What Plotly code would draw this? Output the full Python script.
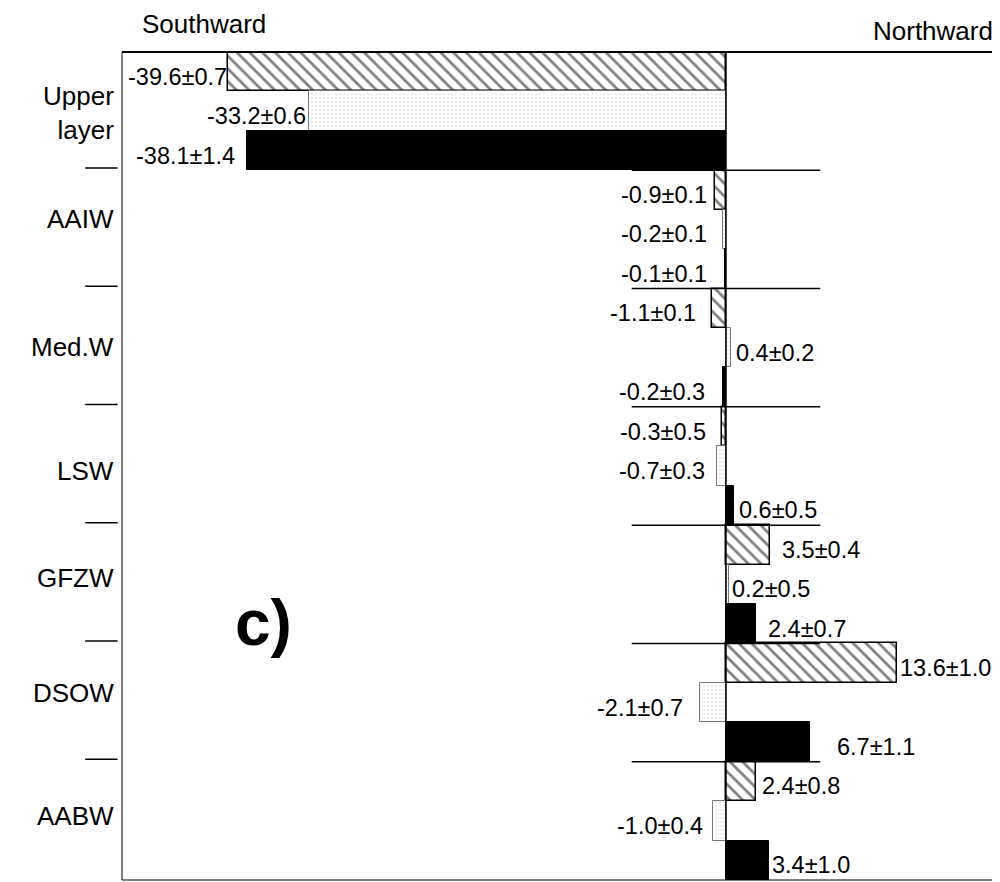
import plotly.graph_objects as go

# ---------------- data ----------------
CATEGORIES = ["Upper layer", "AAIW", "Med.W", "LSW", "GFZW", "DSOW", "AABW"]

HATCHED_VALUES = [-39.6, -0.9, -1.1, -0.3, 3.5, 13.6, 2.4]
HATCHED_ERRORS = [0.7, 0.1, 0.1, 0.5, 0.4, 1.0, 0.8]

DOTTED_VALUES = [-33.2, -0.2, 0.4, -0.7, 0.2, -2.1, -1.0]
DOTTED_ERRORS = [0.6, 0.1, 0.2, 0.3, 0.5, 0.7, 0.4]

SOLID_VALUES = [-38.1, -0.1, -0.2, 0.6, 2.4, 6.7, 3.4]
SOLID_ERRORS = [1.4, 0.1, 0.3, 0.5, 0.7, 1.1, 1.0]

# ---------------- style ----------------
FONT = "Arial, 'Liberation Sans', Helvetica, sans-serif"
VALUE_FONT_SIZE = 23.5
CAT_FONT_SIZE = 26
# gap in pixels between bar end and its value label
HATCHED_GAP = [0, 7, 15, 15, 11, 2, 5]
DOTTED_GAP = [2, 15, 4, 11, 2, 16, 9]
SOLID_GAP = [11, 17, 17, 4, 11, 26, 2]
VALUE_YSHIFT = -5
# vertical nudges (px) of the category labels
CAT_YSHIFT = [-2, 10, 1, -5, 6, 10, 5]

X_RANGE = [-48.05, 21.64]
SEP_HALF = 7.5

fig = go.Figure()

fig.add_trace(go.Bar(
    y=CATEGORIES, x=HATCHED_VALUES, orientation="h", name="hatched",
    marker=dict(color="white", line=dict(color="black", width=1.5),
                pattern=dict(shape="\\", fgcolor="black", bgcolor="white",
                             size=9, solidity=0.3, fillmode="overlay")),
))
fig.add_trace(go.Bar(
    y=CATEGORIES, x=DOTTED_VALUES, orientation="h", name="dotted",
    marker=dict(color="white", line=dict(color="#777777", width=1),
                pattern=dict(shape=".", fgcolor="#d0d0d0", bgcolor="white",
                             size=4, solidity=0.2, fillmode="overlay")),
))
fig.add_trace(go.Bar(
    y=CATEGORIES, x=SOLID_VALUES, orientation="h", name="solid",
    marker=dict(color="black", line=dict(color="black", width=1)),
))

annotations = []
series = [(HATCHED_VALUES, HATCHED_ERRORS, HATCHED_GAP),
          (DOTTED_VALUES, DOTTED_ERRORS, DOTTED_GAP),
          (SOLID_VALUES, SOLID_ERRORS, SOLID_GAP)]
n_series = len(series)
for si, (vals, errs, gaps) in enumerate(series):
    for gi, (v, e, g) in enumerate(zip(vals, errs, gaps)):
        neg = v < 0
        annotations.append(dict(
            x=v, y=gi + (si - (n_series - 1) / 2) / n_series,
            xref="x", yref="y", showarrow=False, borderpad=0,
            text=f"{v:.1f}±{e:.1f}",
            xanchor="right" if neg else "left", yanchor="middle",
            xshift=-g if neg else g, yshift=VALUE_YSHIFT,
            font=dict(family=FONT, size=VALUE_FONT_SIZE, color="black"),
        ))

# category labels to the left of the frame
for gi, cat in enumerate(CATEGORIES):
    annotations.append(dict(
        x=0, y=gi, xref="paper", yref="y", showarrow=False, borderpad=0,
        text=cat.replace(" ", "<br>"), align="right",
        xanchor="right", yanchor="middle", xshift=-7, yshift=CAT_YSHIFT[gi],
        font=dict(family=FONT, size=CAT_FONT_SIZE, color="black"),
    ))

annotations += [
    dict(x=0.0205, y=1, xref="paper", yref="paper", yshift=28, showarrow=False,
         text="Southward", xanchor="left", yanchor="middle",
         font=dict(family=FONT, size=CAT_FONT_SIZE, color="black")),
    dict(x=0.9966, y=1, xref="paper", yref="paper", yshift=21, showarrow=False,
         text="Northward", xanchor="right", yanchor="middle",
         font=dict(family=FONT, size=CAT_FONT_SIZE, color="black")),
    dict(x=0.161, y=0.31, xref="paper", yref="paper", showarrow=False,
         text="<b>c)</b>", xanchor="center", yanchor="middle",
         font=dict(family=FONT, size=64, color="black")),
]

shapes = []
n_cat = len(CATEGORIES)
# separators between water masses
for k in range(n_cat - 1):
    shapes.append(dict(type="line", xref="x", yref="y",
                       x0=-SEP_HALF, x1=SEP_HALF, y0=k + 0.5, y1=k + 0.5,
                       line=dict(color="black", width=1.5), layer="above"))
    shapes.append(dict(type="line", xref="paper", yref="y",
                       x0=-0.042, x1=-0.005, y0=k + 0.48, y1=k + 0.48,
                       line=dict(color="black", width=1.5), layer="above"))
# zero line
shapes.append(dict(type="line", xref="x", yref="paper", x0=0, x1=0, y0=0, y1=1,
                   line=dict(color="black", width=1.5), layer="above"))
# frame
shapes += [
    dict(type="line", xref="paper", yref="paper", x0=0, x1=1.003, y0=1, y1=1,
         line=dict(color="black", width=2), layer="above"),
    dict(type="line", xref="paper", yref="paper", x0=0, x1=0, y0=0, y1=1,
         line=dict(color="black", width=1), layer="above"),
    dict(type="line", xref="paper", yref="paper", x0=0, x1=1, y0=0, y1=0,
         line=dict(color="black", width=1), layer="above"),
    dict(type="line", xref="paper", yref="paper", x0=1, x1=1, y0=0, y1=1,
         line=dict(color="#999999", width=1, dash="dot"), layer="above"),
]

# the page has an 8px body margin, so the figure is 992x874 to fill the window
fig.update_layout(
    width=992, height=874,
    margin=dict(l=114, r=2, t=44, b=2),
    paper_bgcolor="white", plot_bgcolor="white",
    barmode="group", bargap=0, bargroupgap=0,
    showlegend=False,
    xaxis=dict(range=X_RANGE, visible=False, showgrid=False, zeroline=False),
    yaxis=dict(range=[n_cat - 0.5, -0.5], visible=False, showgrid=False,
               zeroline=False, type="category", categoryorder="array",
               categoryarray=CATEGORIES),
    annotations=annotations, shapes=shapes,
    font=dict(family=FONT, color="black"),
)

fig.write_html("out.html")
